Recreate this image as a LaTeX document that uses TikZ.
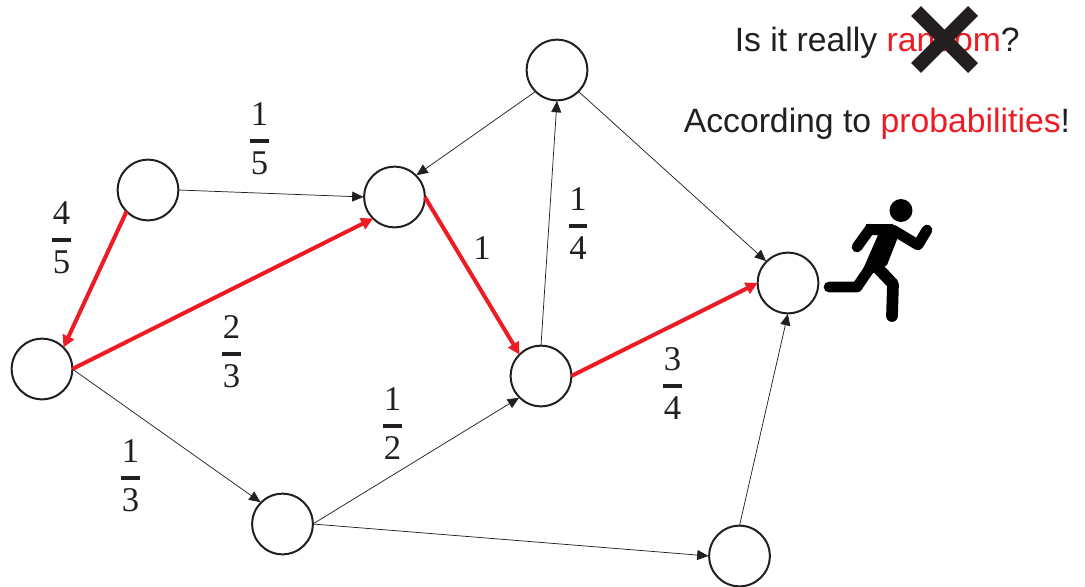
\documentclass[tikz,border=0pt]{standalone}
\usepackage{fontspec}
\setmainfont{Liberation Sans}
\newfontfamily\fracfont{Liberation Serif}
\usetikzlibrary{arrows.meta}
\definecolor{ink}{HTML}{231F20}
\definecolor{hotred}{HTML}{ED1C24}
\newcommand{\fracstack}[2]{\makebox[0pt]{\raisebox{11.5pt}{#1}}\makebox[0pt]{\rule[-1.2pt]{14.2pt}{2.4pt}}\makebox[0pt]{\raisebox{-25pt}{#2}}}
\tikzset{
  x=0.75pt,y=-0.75pt,
  vertex/.style={circle,draw=ink,fill=white,line width=1.5pt,minimum size=45.5pt,inner sep=0pt,outer sep=0pt},
  flow/.style={draw=ink,line width=0.55pt,-{Stealth[length=8.5pt,width=7.5pt,inset=0pt]},shorten >=0.5pt},
  hot/.style={draw=hotred,line width=3pt,-{Stealth[length=9pt,width=9pt,inset=0pt]}},
  prob/.style={font=\fracfont\fontsize{26}{26}\selectfont,text=ink,inner sep=0pt,anchor=base},
  caption/.style={font=\fontsize{25.3}{26}\selectfont,text=ink,inner sep=0pt,anchor=base west},
  limb/.style={draw=black,line width=8pt,line cap=round,line join=round},
  cross/.style={draw=ink,line width=10.5pt}
}
\begin{document}
\begin{tikzpicture}
\useasboundingbox (0,0) rectangle (1085,586);
\node[vertex] (a) at (148,190) {};
\node[vertex] (b) at (394.5,197) {};
\node[vertex] (c) at (42,369) {};
\node[vertex] (d) at (557,70) {};
\node[vertex] (e) at (541,376) {};
\node[vertex] (f) at (788,283) {};
\node[vertex] (g) at (282.5,524) {};
\node[vertex] (h) at (739.5,556) {};
\draw[flow] (a.east) -- (b.west);
\draw[flow] (d.south west) -- (b.north east);
\draw[flow] (e.north) -- (d.south);
\draw[flow] (d.south east) -- (f.north west);
\draw[flow] (c.east) -- (g.north west);
\draw[flow] (g.east) -- (e.south west);
\draw[flow] (g.east) -- (h.west);
\draw[flow] (h.north) -- (f.south);
\draw[hot] (a.south west) -- (c.north east);
\draw[hot] (c.east) -- (b.south west);
\draw[hot] (b.east) -- (e.north west);
\draw[hot] (e.east) -- (f.west);
\node[prob] (p1) at (259.5,141) {\fracstack{1}{5}};
\node[prob] (p2) at (61.5,240) {\fracstack{4}{5}};
\node[prob] (p3) at (231.5,354) {\fracstack{2}{3}};
\node[prob] (p4) at (578,226) {\fracstack{1}{4}};
\node[prob] (p5) at (392.5,426) {\fracstack{1}{2}};
\node[prob] (p6) at (672.5,386) {\fracstack{3}{4}};
\node[prob] (p7) at (130.5,478) {\fracstack{1}{3}};
\node[prob] (p8) at (482,259) {1};
\node[caption] (t1) at (734.5,51) {Is it really \textcolor{hotred}{random}?};
\node[caption] (t2) at (683.5,132) {According to \textcolor{hotred}{probabilities}!};
\draw[cross] (916,11) -- (973,68);
\draw[cross] (973,11) -- (916,68);
% runner
\fill[black] (901,210.5) circle (8.6pt);
\fill[black] (866,224) -- (893,224) -- (898,237) -- (887,265) -- (875,272) -- (857,283) -- (878,235) -- (868,235) -- cycle;
\draw[limb] (870,229) -- (857,247);
\draw[limb] (893,230) -- (918,245) -- (927,230);
\draw[limb] (874,262) -- (857,287) -- (829,287);
\draw[limb,line width=8.8pt] (875,265) -- (893,284) -- (892,316);
\end{tikzpicture}
\end{document}
